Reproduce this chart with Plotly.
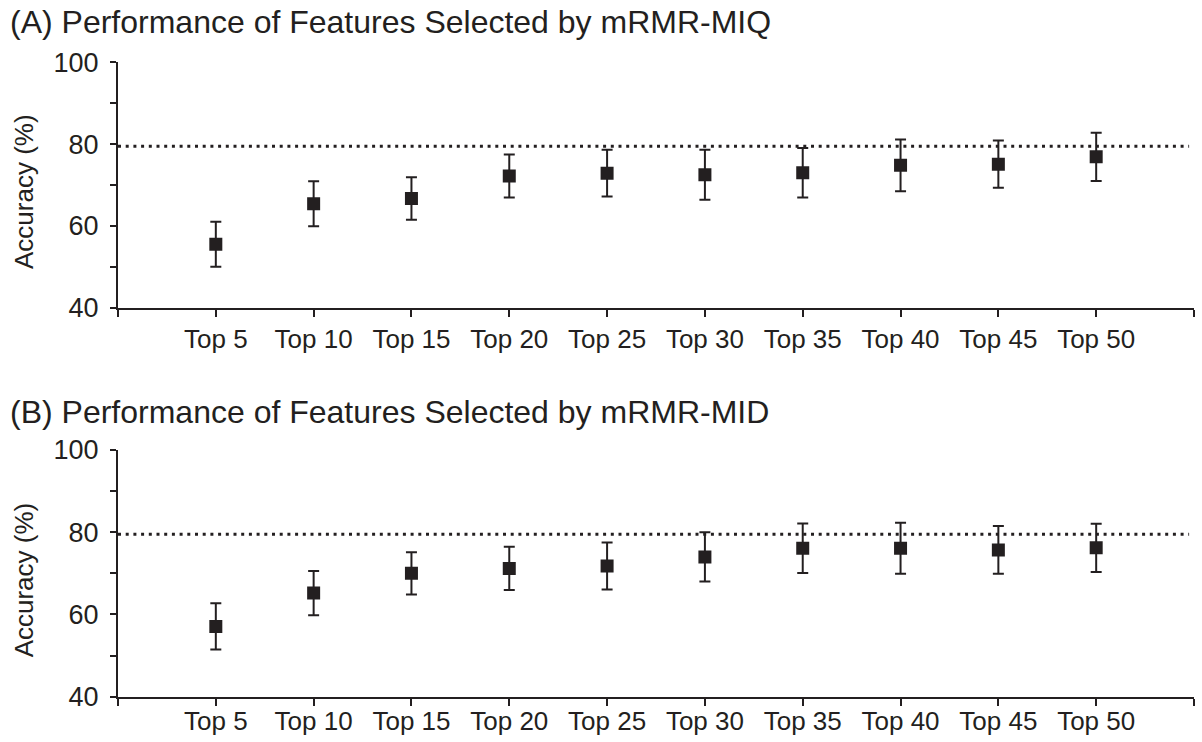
import plotly.graph_objects as go

# Feature-subset sizes evaluated
categories = ["Top 5", "Top 10", "Top 15", "Top 20", "Top 25",
              "Top 30", "Top 35", "Top 40", "Top 45", "Top 50"]

# Mean accuracy (%) and standard deviation for mRMR-MIQ
miq_mean = [55.5, 65.4, 66.7, 72.2, 72.9, 72.5, 73.0, 74.8, 75.1, 76.9]
miq_sd = [5.5, 5.5, 5.2, 5.25, 5.7, 6.1, 6.05, 6.3, 5.8, 5.9]

# Mean accuracy (%) and standard deviation for mRMR-MID
mid_mean = [57.1, 65.2, 70.0, 71.2, 71.8, 74.0, 76.1, 76.1, 75.7, 76.2]
mid_sd = [5.6, 5.4, 5.15, 5.25, 5.7, 6.0, 6.0, 6.2, 5.8, 5.85]

# Reference accuracy (%) drawn as dotted line
reference_acc = 79.5

panel_titles = ["(A) Performance of Features Selected by mRMR-MIQ",
                "(B) Performance of Features Selected by mRMR-MID"]
y_title = "Accuracy (%)"
y_ticks = [40, 50, 60, 70, 80, 90, 100]
y_ticktext = ["40", "", "60", "", "80", "", "100"]

INK = "#231f20"
FONT = "Liberation Sans, Arial, sans-serif"
W, H = 1202, 742

x_pos = list(range(1, len(categories) + 1))
x_ticks = list(range(0, len(categories) + 2))
x_ticktext = [""] + categories + [""]

fig = go.Figure()

# (means, sds, x axis, y axis, plot top/bottom in px, title centre px, label standoff)
panels = [
    (miq_mean, miq_sd, "x", "y", [62.3, 307.7], 22, 0),
    (mid_mean, mid_sd, "x2", "y2", [450.0, 696.7], 412, -7),
]

x_dom = [118 / W, 1194 / W]

for i, (mean, sd, xa, ya, (top_px, bot_px), title_px, standoff) in enumerate(panels):
    fig.add_trace(go.Scatter(
        x=x_pos, y=mean, xaxis=xa, yaxis=ya, mode="markers",
        marker=dict(symbol="square", size=13, color=INK, line=dict(width=0)),
        error_y=dict(type="data", array=sd, visible=True, color=INK,
                     thickness=2, width=5.5),
        showlegend=False, hoverinfo="skip",
    ))
    fig.add_shape(type="line", xref=xa, yref=ya, x0=0, x1=10.95,
                  y0=reference_acc, y1=reference_acc,
                  line=dict(color=INK, width=3, dash="3px,4.7px"),
                  layer="below")

    suffix = "" if i == 0 else str(i + 1)
    y_dom = [1 - bot_px / H, 1 - top_px / H]
    fig.update_layout({
        "xaxis" + suffix: dict(
            domain=x_dom, anchor=ya, range=[0, 11],
            tickmode="array", tickvals=x_ticks, ticktext=x_ticktext,
            ticks="outside", ticklen=7, tickwidth=2, tickcolor=INK,
            showline=True, linecolor=INK, linewidth=2,
            showgrid=False, zeroline=False, automargin=False,
            tickfont=dict(family=FONT, size=26, color=INK),
            ticklabelstandoff=standoff,
            fixedrange=True,
        ),
        "yaxis" + suffix: dict(
            domain=y_dom, anchor=xa, range=[40, 100],
            tickmode="array", tickvals=y_ticks, ticktext=y_ticktext,
            ticks="outside", ticklen=6, tickwidth=2, tickcolor=INK,
            showline=True, linecolor=INK, linewidth=2,
            showgrid=False, zeroline=False, automargin=False,
            tickfont=dict(family=FONT, size=27, color=INK),
            ticklabelstandoff=6,
            fixedrange=True,
        ),
    })

    fig.add_annotation(text=panel_titles[i], xref="paper", yref="paper",
                       x=8 / W, y=1 - title_px / H, xanchor="left",
                       yanchor="middle", showarrow=False,
                       font=dict(family=FONT, size=32, color=INK))
    fig.add_annotation(text=y_title, xref="paper", yref="paper",
                       x=24 / W, y=1 - ((top_px + bot_px) / 2 + 7) / H,
                       xanchor="center", yanchor="middle", textangle=-90,
                       showarrow=False,
                       font=dict(family=FONT, size=26, color=INK))

fig.update_layout(
    width=W, height=H,
    margin=dict(l=0, r=0, t=0, b=0),
    paper_bgcolor="white", plot_bgcolor="white",
    font=dict(family=FONT, color=INK),
)

fig.write_html("out.html", config={"displayModeBar": False})
